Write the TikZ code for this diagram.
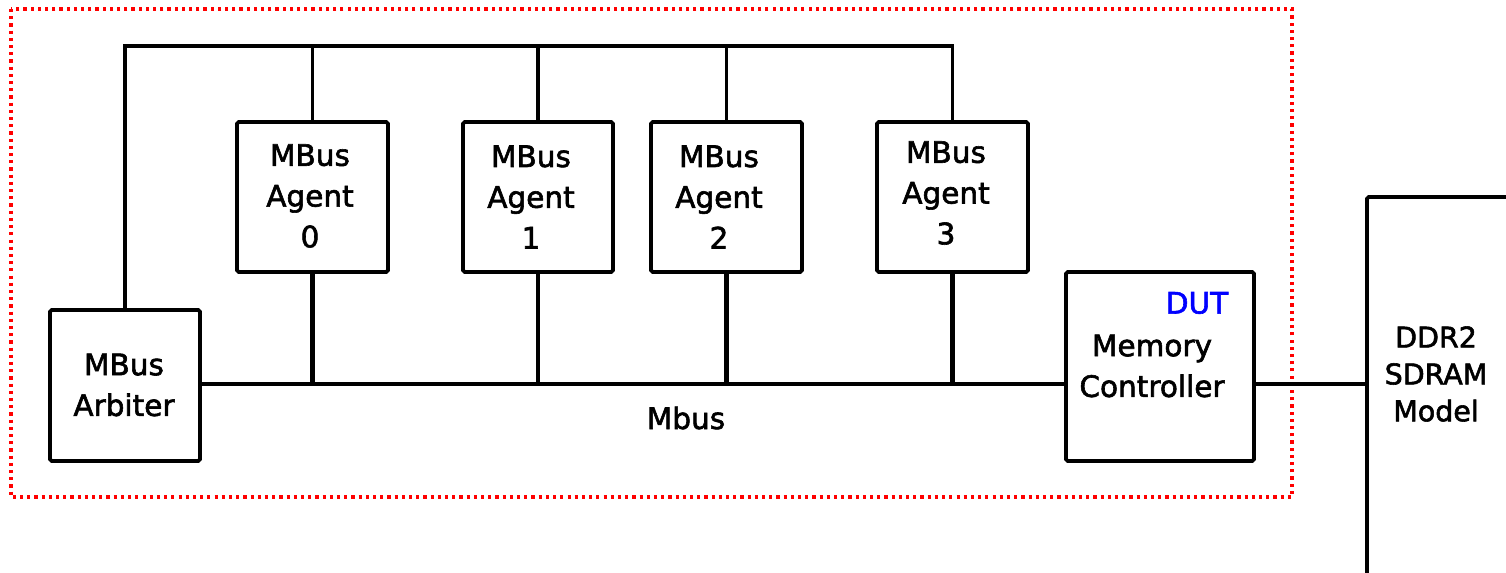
\documentclass[tikz,border=0pt]{standalone}
\usepackage{fontspec}
\setmainfont[FakeBold=2]{DejaVu Sans}
\begin{document}
\begin{tikzpicture}[x=0.02cm,y=-0.02cm,
  box/.style={draw,line width=2.1pt,rounded corners=1pt,inner sep=0pt,outer sep=0pt},
  lbl/.style={font=\fontsize{16.8}{23.2}\selectfont,align=center,inner sep=0pt},
  wire/.style={line width=1.9pt},
  bus/.style={line width=2.7pt}]
\clip (0,0) rectangle (1506,573);
\fill[white] (0,0) rectangle (1506,573);
% dashed DUT boundary
\draw[red,line width=1.8pt,dash pattern=on 1.8pt off 2.3pt] (11,9) rectangle (1292,497);
% boxes
\node[box,minimum width=3.0cm,minimum height=3.02cm] (arb) at (125,385.5) {};
\node[box,minimum width=3.02cm,minimum height=3.0cm] (ag0) at (312.5,197) {};
\node[box,minimum width=3.0cm,minimum height=3.0cm] (ag1) at (538,197) {};
\node[box,minimum width=3.02cm,minimum height=3.0cm] (ag2) at (726.5,197) {};
\node[box,minimum width=3.02cm,minimum height=3.0cm] (ag3) at (952.5,197) {};
\node[box,minimum width=3.76cm,minimum height=3.78cm] (mc) at (1160,366.5) {};
\node[box,minimum width=4.6cm,minimum height=10.2cm] (ddr) at (1482,452) {};
% texts
\node[lbl] at (124,385) {MBus\\Arbiter};
\node[lbl] at (310,196) {MBus\\Agent\\0};
\node[lbl] at (531,197) {MBus\\Agent\\1};
\node[lbl] at (719,197) {MBus\\Agent\\2};
\node[lbl] at (946,193) {MBus\\Agent\\3};
\node[lbl] at (1152,366) {Memory\\Controller};
\node[lbl,text=blue] at (1197,303) {DUT};
\node[lbl,font=\fontsize{16.2}{21}\selectfont] at (1436,374) {DDR2\\SDRAM\\Model};
\node[lbl] at (686,418) {Mbus};
% connectors
\coordinate (top) at (0,46);
\coordinate (busy) at (0,384);
\draw[wire] (arb.north) |- (ag3.north |- top) -- (ag3.north);
\foreach \a in {ag0,ag1,ag2} \draw[wire] (\a.north) -- (\a.north |- top);
\draw[bus] (arb.east |- busy) -- (mc.west |- busy);
\foreach \a in {ag0,ag1,ag2,ag3} \draw[bus] (\a.south) -- (\a.south |- busy);
\draw[bus] (mc.east |- busy) -- (ddr.west |- busy);
\end{tikzpicture}
\end{document}
